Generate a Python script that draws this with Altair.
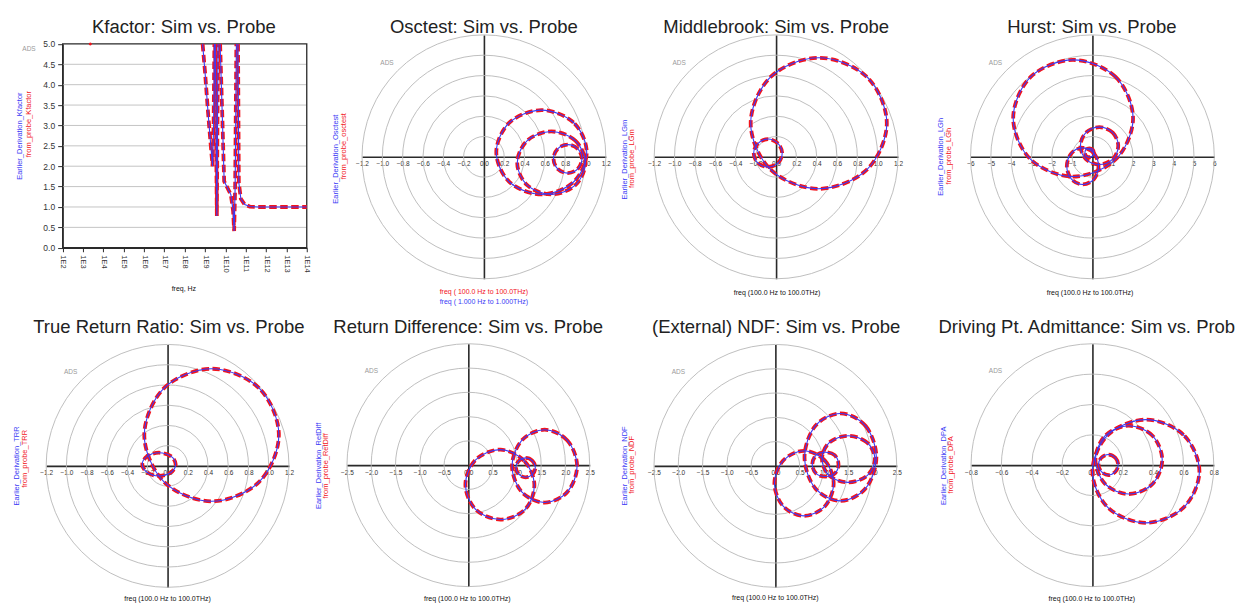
import altair as alt
import pandas as pd

FONT = "Liberation Sans"
RED = "#f2141c"
BLUE = "#3a3af5"
AXC = "#2a2a2a"
GRIDC = "#b8b8b8"
CW, CH = 309, 300

# ---------------- Kfactor (x = log10 freq) ----------------
kf_logf = [8.88, 9.0, 9.15, 9.3, 9.37, 9.42, 9.46,
           9.5, 9.55, 9.58, 9.61, 9.64,
           9.74, 9.85, 9.94, 10.05, 10.27, 10.38, 10.43, 10.48, 10.54,
           10.62, 10.66, 10.76, 10.95, 11.2, 11.6, 12.0, 13.0, 14.0]
kf_k = [5.0, 4.3, 3.3, 2.4, 2.0, 3.0, 5.0,
        5.0, 2.5, 0.78, 3.0, 5.0,
        5.0, 3.2, 1.63, 1.52, 1.3, 0.9, 0.41, 1.5, 5.0,
        5.0, 1.6, 1.2, 1.06, 1.01, 1.0, 1.0, 1.0, 1.0]
kf_seg = [0] * 7 + [1] * 5 + [2] * 9 + [3] * 9
kf_dot = (3.36, 5.0)
kf_xticks = list(range(2, 15))
kf_yticks = [0.0, 0.5, 1.0, 1.5, 2.0, 2.5, 3.0, 3.5, 4.0, 4.5, 5.0]

# ---------------- polar curves (re, im) ----------------
osc_big = [(1.012, 0.045), (0.882, 0.338), (0.567, 0.46), (0.252, 0.338), (0.122, 0.045), (0.252, -0.248), (0.567, -0.37), (0.882, -0.248)]
osc_mid = [(0.998, -0.06), (0.9, 0.159), (0.663, 0.25), (0.426, 0.159), (0.328, -0.06), (0.426, -0.279), (0.663, -0.37), (0.9, -0.279)]
osc_small = [(0.965, -0.02), (0.924, 0.079), (0.825, 0.12), (0.726, 0.079), (0.685, -0.02), (0.726, -0.119), (0.825, -0.16), (0.924, -0.119)]

mb_big = [(1.09, 0.33), (0.894, 0.786), (0.42, 0.975), (-0.054, 0.786), (-0.25, 0.33), (-0.054, -0.126), (0.42, -0.315), (0.894, -0.126)]
mb_small = [(0.06, 0.035), (0.02, 0.13), (-0.08, 0.175), (-0.18, 0.13), (-0.22, 0.035), (-0.18, -0.06), (-0.08, -0.1), (0.02, -0.06)]

hu_big = [(2.0, 1.9), (1.14, 3.93), (-0.95, 4.77), (-3.04, 3.93), (-3.9, 1.9), (-3.04, -0.13), (-0.95, -0.97), (1.14, -0.13)]
hu_up = [(1.27, 0.54), (1.0, 1.19), (0.34, 1.46), (-0.32, 1.19), (-0.59, 0.54), (-0.32, -0.11), (0.34, -0.38), (1.0, -0.11)]
hu_low = [(0.3, -0.46), (0.07, 0.18), (-0.48, 0.44), (-1.03, 0.18), (-1.26, -0.46), (-1.03, -1.1), (-0.48, -1.36), (0.07, -1.1)]
hu_tiny = [(0.07, 0.2), (0.01, 0.36), (-0.15, 0.42), (-0.31, 0.36), (-0.37, 0.2), (-0.31, 0.04), (-0.15, -0.02), (0.01, 0.04)]

trr_big = [(1.1, 0.305), (0.905, 0.768), (0.435, 0.96), (-0.035, 0.768), (-0.23, 0.305), (-0.035, -0.158), (0.435, -0.35), (0.905, -0.158)]
trr_small = [(0.08, 0.015), (0.032, 0.096), (-0.085, 0.13), (-0.2, 0.096), (-0.25, 0.015), (-0.2, -0.066), (-0.085, -0.1), (0.032, -0.066)]

rd_left = [(1.36, -0.4), (1.15, 0.09), (0.66, 0.32), (0.15, 0.11), (-0.06, -0.4), (0.15, -0.91), (0.66, -1.12), (1.17, -0.91)]
rd_right = [(2.24, -0.02), (2.04, 0.51), (1.57, 0.73), (1.1, 0.51), (0.9, -0.02), (1.1, -0.55), (1.57, -0.77), (2.04, -0.55)]
rd_small = [(1.38, -0.05), (1.32, 0.09), (1.18, 0.15), (1.04, 0.09), (0.98, -0.05), (1.04, -0.19), (1.18, -0.25), (1.32, -0.19)]

ndf_left = [(1.2, -0.36), (1.02, 0.11), (0.59, 0.31), (0.16, 0.11), (-0.02, -0.36), (0.16, -0.83), (0.59, -1.03), (1.02, -0.83)]
ndf_big = [(2.08, 0.18), (1.86, 0.82), (1.34, 1.08), (0.82, 0.82), (0.6, 0.18), (0.82, -0.46), (1.34, -0.72), (1.86, -0.46)]
ndf_mid = [(2.05, 0.14), (1.89, 0.48), (1.5, 0.62), (1.11, 0.48), (0.96, 0.14), (1.11, -0.2), (1.5, -0.34), (1.89, -0.2)]
ndf_small = [(1.3, 0.03), (1.22, 0.22), (1.03, 0.28), (0.84, 0.22), (0.76, 0.03), (0.84, -0.16), (1.03, -0.22), (1.22, -0.16)]

dpa_big = [(0.705, -0.04), (0.6, 0.2), (0.352, 0.3), (0.103, 0.2), (0.0, -0.04), (0.103, -0.28), (0.352, -0.38), (0.6, -0.28)]
dpa_mid = [(0.46, 0.035), (0.396, 0.194), (0.24, 0.26), (0.084, 0.194), (0.02, 0.035), (0.084, -0.124), (0.24, -0.19), (0.396, -0.124)]
dpa_small = [(0.17, 0.003), (0.151, 0.049), (0.105, 0.07), (0.059, 0.049), (0.04, 0.003), (0.059, -0.043), (0.105, -0.065), (0.151, -0.043)]

ticks_12 = [-1.2, -1.0, -0.8, -0.6, -0.4, -0.2, 0.0, 0.2, 0.4, 0.6, 0.8, 1.0, 1.2]
ticks_6 = [-6, -5, -4, -3, -2, -1, 0, 1, 2, 3, 4, 5, 6]
ticks_25 = [-2.5, -2.0, -1.5, -1.0, -0.5, 0.0, 0.5, 1.0, 1.5, 2.0, 2.5]
ticks_08 = [-0.8, -0.6, -0.4, -0.2, 0.0, 0.2, 0.4, 0.6, 0.8]
rings_12 = [0.2, 0.4, 0.6, 0.8, 1.0, 1.2]
rings_6 = [1, 2, 3, 4, 5, 6]
rings_25 = [0.5, 1.0, 1.5, 2.0, 2.5]
rings_08 = [0.2, 0.4, 0.6, 0.8]

FREQ = "freq (100.0 Hz to 100.0THz)"


def txt(text, x, y, size, color, angle=0, align="center", baseline="middle"):
    return alt.Chart(alt.Data(values=[{"t": text}])).mark_text(
        font=FONT, fontSize=size, color=color, angle=angle, align=align, baseline=baseline
    ).encode(text="t:N", x=alt.value(x), y=alt.value(y))


def loops_df(loops):
    rows = []
    for name, pts in loops.items():
        for i, (a, b) in enumerate(pts):
            rows.append({"x": a, "y": b, "loop": name, "i": i})
    return pd.DataFrame(rows)


def polar(title, tx, D, ticks, fmt, rings, loops, cx, cy, r, blab, rlab, bpos, rpos, freq):
    sx = alt.Scale(domain=[-D, D], range=[cx - r, cx + r], nice=False, zero=False)
    sy = alt.Scale(domain=[-D, D], range=[cy + r, cy - r], nice=False, zero=False)
    ax = alt.Axis(values=ticks, format=fmt, offset=cy - CH, domainColor=AXC, domainWidth=1.6,
                  ticks=False, labelFontSize=6.5, labelPadding=4, labelColor="#333", labelFont=FONT,
                  labelFlush=False, labelOverlap=False, grid=False, title=None)
    ay = alt.Axis(offset=-cx, domainColor=AXC, domainWidth=1.6, ticks=False, labels=False,
                  grid=False, title=None)
    X = alt.X("x:Q", scale=sx, axis=ax)
    Y = alt.Y("y:Q", scale=sy, axis=ay)
    gdf = pd.DataFrame({"r": rings, "x": [0.0] * len(rings), "y": [0.0] * len(rings)})
    # ring diameter = sqrt(size)  ->  pow-2 scale keeps the radius linear in r
    circles = alt.Chart(gdf).mark_point(shape="circle", filled=False, color=GRIDC,
                                        strokeWidth=0.9, opacity=1).encode(
        x=X, y=Y,
        size=alt.Size("r:Q", legend=None,
                      scale=alt.Scale(type="pow", exponent=2, domain=[0, D], range=[0, 4 * r * r])),
    )
    df = loops_df(loops)
    red = alt.Chart(df).mark_line(color=RED, strokeWidth=3.8, strokeDash=[7.5, 3.5],
                                  interpolate="cardinal-closed").encode(
        x=X, y=Y, detail="loop:N", order="i:Q")
    blue = alt.Chart(df).mark_line(color=BLUE, strokeWidth=1.1,
                                   interpolate="cardinal-closed").encode(
        x=X, y=Y, detail="loop:N", order="i:Q")
    layers = [circles, red, blue,
              txt(title, tx, 23.8, 18.5, "#222", baseline="alphabetic"),
              txt("ADS", cx - 97, cy - 94, 6.5, "#9a9a9a"),
              txt(blab, bpos[0], bpos[1], 7.5, BLUE, angle=270),
              txt(rlab, rpos[0], rpos[1], 7.5, RED, angle=270)]
    for (t, fx, fy, col) in freq:
        layers.append(txt(t, fx, fy, 7, col))
    return alt.layer(*layers).properties(width=CW, height=CH)


# ---------------- Kfactor panel ----------------
def kfactor():
    x0, x1, y0, y1 = 53.7, 298.0, 238.7, 34.7
    sx = alt.Scale(domain=[2, 14], range=[x0, x1], nice=False, zero=False)
    sy = alt.Scale(domain=[0, 5], range=[y0, y1], nice=False, zero=False)
    ax = alt.Axis(values=kf_xticks, labelExpr="'1E' + datum.value", labelAngle=90, offset=y0 - CH,
                  tickSize=4, tickColor=AXC, domainColor=AXC, domainWidth=1.3, labelFontSize=7.5,
                  labelPadding=3, labelFont=FONT, labelColor="#333", labelFlush=False,
                  labelOverlap=False, grid=False, title=None)
    ay = alt.Axis(values=kf_yticks, format=".1f", offset=-x0, tickSize=5, tickColor=AXC,
                  domainColor=AXC, domainWidth=1.3, labelFontSize=8.5, labelPadding=3,
                  labelFont=FONT, labelColor="#333", labelFlush=False, labelOverlap=False,
                  grid=False, title=None)
    X = alt.X("x:Q", scale=sx, axis=ax)
    Y = alt.Y("y:Q", scale=sy, axis=ay)
    gdf = pd.DataFrame({"y": kf_yticks[1:-1], "x": [kf_xticks[0]] * 9, "x2": [kf_xticks[-1]] * 9})
    grid = alt.Chart(gdf).mark_rule(color="#c4c4c4", strokeWidth=1).encode(x=X, x2="x2:Q", y=Y)
    fdf = pd.DataFrame({"x": [kf_xticks[0]], "x2": [kf_xticks[-1]], "y": [kf_yticks[0]], "y2": [kf_yticks[-1]]})
    frame = alt.Chart(fdf).mark_rect(fillOpacity=0, stroke=AXC, strokeWidth=1.3).encode(
        x=X, x2="x2:Q", y=Y, y2="y2:Q")
    df = pd.DataFrame({"x": kf_logf, "y": kf_k, "seg": kf_seg, "i": list(range(len(kf_k)))})
    red = alt.Chart(df).mark_line(color=RED, strokeWidth=3.8, strokeDash=[7.5, 3.5]).encode(
        x=X, y=Y, detail="seg:N", order="i:Q")
    blue = alt.Chart(df).mark_line(color=BLUE, strokeWidth=1.1).encode(
        x=X, y=Y, detail="seg:N", order="i:Q")
    dot = alt.Chart(pd.DataFrame({"x": [kf_dot[0]], "y": [kf_dot[1]]})).mark_circle(
        color=RED, size=9, opacity=1).encode(x=X, y=Y)
    layers = [grid, frame, red, blue, dot,
              txt("Kfactor: Sim vs. Probe", 175, 23.8, 18.5, "#222", baseline="alphabetic"),
              txt("ADS", 20, 40, 6.5, "#9a9a9a"),
              txt("Earlier_Derivation_Kfactor", 11, 127, 7.5, BLUE, angle=270),
              txt("from_probe_Kfactor", 20, 115, 7.5, RED, angle=270),
              txt("freq, Hz", 175, 280, 7, "#111")]
    return alt.layer(*layers).properties(width=CW, height=CH)


p1 = kfactor()
p2 = polar("Osctest: Sim vs. Probe", 166.3, 1.2, ticks_12, ".1f", rings_12,
           {"a": osc_big, "b": osc_mid, "c": osc_small}, 166.3, 147.7, 122,
           "Earlier_Derivation_Osctest", "from_probe_osctest", (18, 150), (26, 137),
           [("freq ( 100.0 Hz to  100.0THz)", 166.3, 283, RED),
            ("freq ( 1.000 Hz to  1.000THz)", 166.3, 292.5, BLUE)])
p3 = polar("Middlebrook: Sim vs. Probe", 149.8, 1.2, ticks_12, ".1f", rings_12,
           {"a": mb_big, "b": mb_small}, 149.7, 147.7, 122,
           "Earlier_Derivation_LGm", "from_probe_LGm", (-1, 150.5), (5.7, 149.5),
           [(FREQ, 150.7, 283.7, "#111")])
p4 = polar("Hurst: Sim vs. Probe", 156.7, 6, ticks_6, "d", rings_6,
           {"a": hu_big, "b": hu_up, "c": hu_low, "d": hu_tiny}, 157.3, 147.7, 122,
           "Earlier_Derivation_LGh", "from_probe_LGh", (6, 147.7), (13.3, 147),
           [(FREQ, 155, 283.7, "#111")])
p5 = polar("True Return Ratio: Sim vs. Probe", 160, 1.2, ticks_12, ".1f", rings_12,
           {"a": trr_big, "b": trr_small}, 158.7, 157, 121.5,
           "Earlier_Derivation_TRR", "from_probe_TRR", (8, 157), (16, 150),
           [(FREQ, 158.7, 290.3, "#111")])
p6 = polar("Return Difference: Sim vs. Probe", 150.5, 2.5, ticks_25, ".1f", rings_25,
           {"a": rd_left, "b": rd_right, "c": rd_small}, 150.7, 156.3, 121.5,
           "Earlier_Derivation_RetDiff", "from_probe_RetDiff", (1, 157), (8, 157),
           [(FREQ, 149.7, 290.3, "#111")])
p7 = polar("(External) NDF: Sim vs. Probe", 149.8, 2.5, ticks_25, ".1f", rings_25,
           {"a": ndf_left, "b": ndf_big, "c": ndf_mid, "d": ndf_small}, 149, 157, 121.5,
           "Earlier_Derivation_NDF", "from_probe_NDF", (-2, 157), (5.7, 156),
           [(FREQ, 149, 289.7, "#111")])
p8 = polar("Driving Pt. Admittance: Sim vs. Prob", 151.7, 0.8, ticks_08, ".1f", rings_08,
           {"a": dpa_big, "b": dpa_mid, "c": dpa_small}, 157.3, 156.3, 121.5,
           "Earlier_Derivation_DPA", "from_probe_DPA", (8.3, 157), (15.7, 156),
           [(FREQ, 156.7, 290.3, "#111")])

chart = alt.concat(p1, p2, p3, p4, p5, p6, p7, p8, columns=4, spacing=0, bounds="flush").resolve_scale(
    size="independent"
).properties(
    padding=0, background="white"
).configure_view(stroke="transparent")

chart.save("out.html", embed_options={"renderer": "svg", "actions": False})
